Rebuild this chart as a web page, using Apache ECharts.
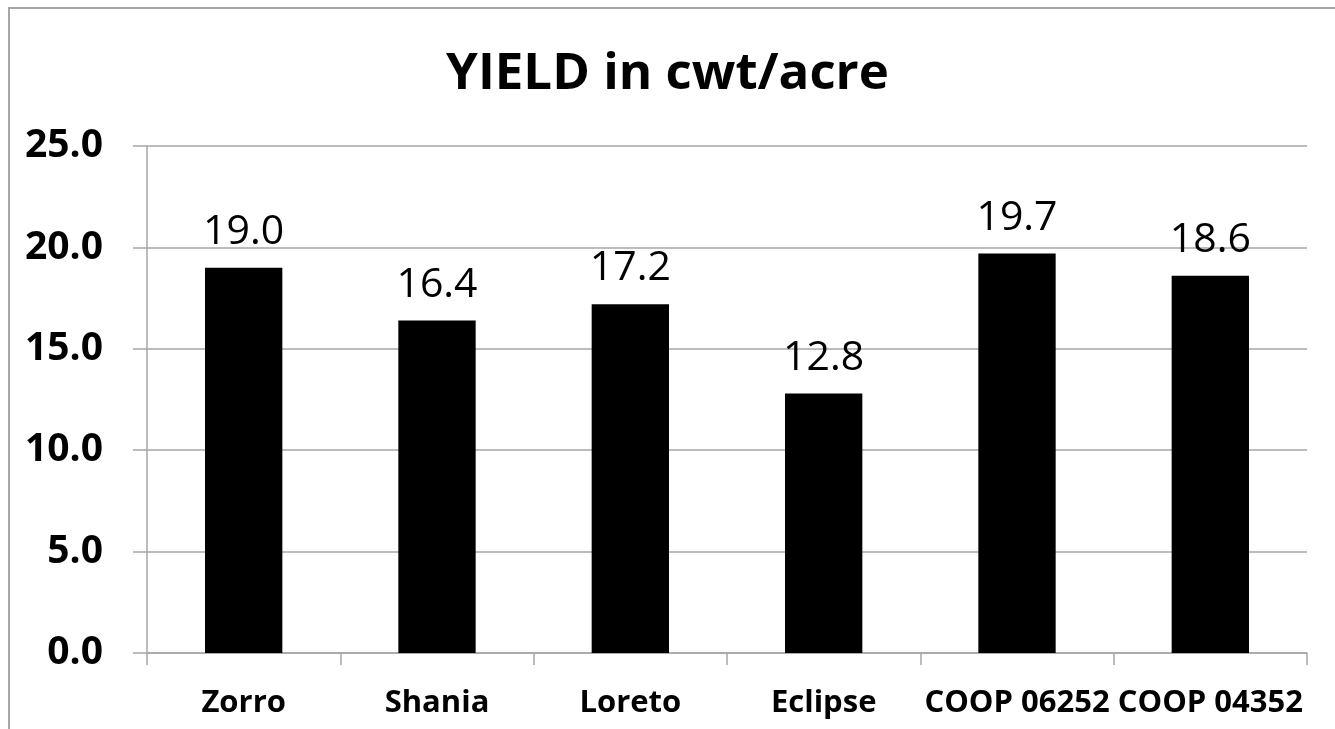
<!DOCTYPE html>
<html>
<head>
<meta charset="utf-8">
<script src="https://cdn.jsdelivr.net/npm/echarts@6/dist/echarts.min.js"></script>
<style>
  html, body { margin: 0; padding: 0; background: #fff; }
  #chartmain { width: 1335px; height: 729px; }
</style>
</head>
<body>
<div id="chartmain"></div>
<script>
// data
var categories = ['Zorro', 'Shania', 'Loreto', 'Eclipse', 'COOP 06252', 'COOP 04352'];
var yieldValues = [19.0, 16.4, 17.2, 12.8, 19.7, 18.6];
var yTicks = [0, 5, 10, 15, 20, 25];

var myChart = echarts.init(document.getElementById('chartmain'));
var font = '"Open Sans", sans-serif';

var option = {
    backgroundColor: '#FFFFFF',
    animation: false,
    graphic: [{
        type: 'rect',
        shape: {x: 9, y: 8, width: 1340, height: 740},
        style: {fill: 'none', stroke: '#a6a6a6', lineWidth: 2}
    }],
    title: {
        text: 'YIELD in cwt/acre',
        left: 'center',
        top: 44,
        textStyle: {
            fontFamily: font,
            fontSize: 51,
            fontWeight: 'bold',
            color: '#000'
        }
    },
    grid: {
        left: 147,
        right: 28,
        top: 146,
        bottom: 76
    },
    xAxis: [{
        type: 'category',
        data: categories,
        axisLine: {lineStyle: {color: '#a6a6a6', width: 1.5}},
        axisTick: {show: true, length: 12, lineStyle: {color: '#a6a6a6', width: 1.5}},
        axisLabel: {
            fontFamily: font,
            fontSize: 31,
            fontWeight: 'bold',
            color: '#000',
            margin: 35,
            interval: 0
        }
    }],
    yAxis: [{
        type: 'value',
        min: yTicks[0],
        max: yTicks[yTicks.length - 1],
        interval: 5,
        axisLine: {show: true, lineStyle: {color: '#a6a6a6', width: 1.5}},
        axisTick: {show: true, length: 14, lineStyle: {color: '#a6a6a6', width: 1.5}},
        splitLine: {lineStyle: {color: '#a6a6a6', width: 1.5}},
        axisLabel: {
            fontFamily: font,
            fontSize: 39,
            fontWeight: 'bold',
            color: '#000',
            margin: 44,
            formatter: function (v) { return v.toFixed(1); }
        }
    }],
    series: [{
        name: 'YIELD',
        type: 'bar',
        data: yieldValues,
        barCategoryGap: '60%',
        itemStyle: {color: '#000'},
        label: {
            show: true,
            position: 'top',
            distance: 15,
            fontFamily: font,
            fontSize: 41,
            color: '#000',
            formatter: function (p) { return p.value.toFixed(1); }
        }
    }]
};

myChart.setOption(option);
</script>
</body>
</html>
